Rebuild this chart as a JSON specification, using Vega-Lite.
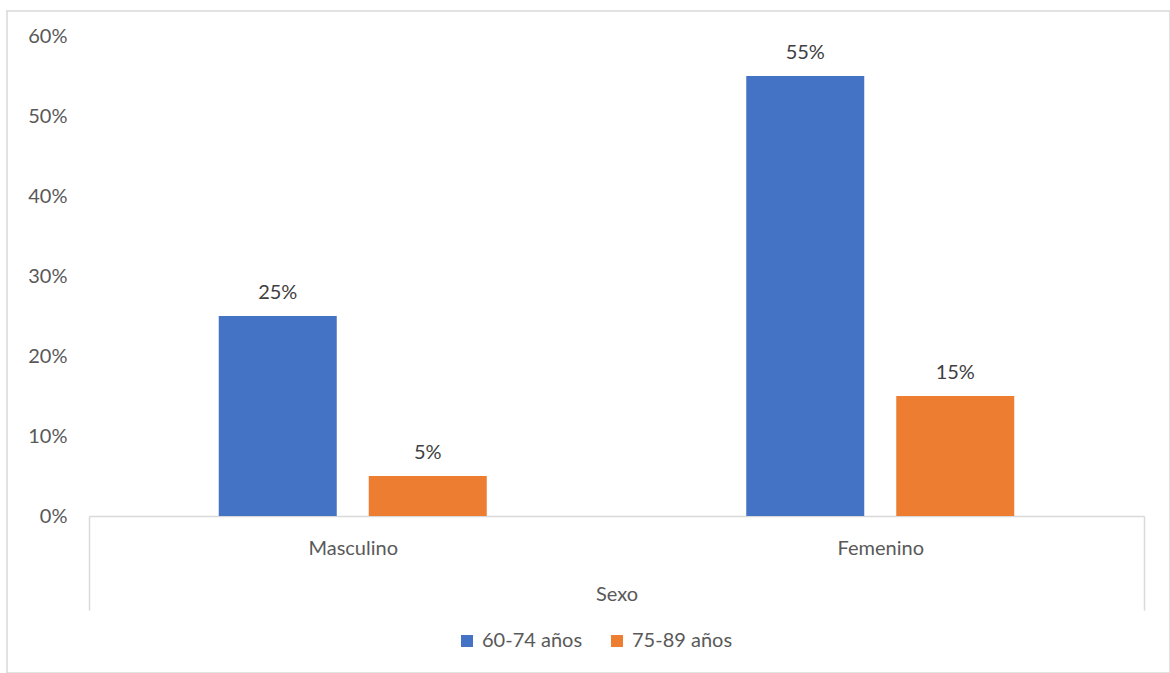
{
  "$schema": "https://vega.github.io/schema/vega-lite/v6.json",
  "autosize": {"type": "none"},
  "width": 1163,
  "height": 662,
  "padding": {"left": 7, "top": 11, "right": 0, "bottom": 0},
  "background": "white",
  "config": {
    "view": {"stroke": "#d9d9d9", "strokeWidth": 1.5},
    "font": "Lato"
  },
  "data": {
    "values": [
      {"sexo": "Masculino", "grupo": "60-74 años", "pct": 0.25},
      {"sexo": "Masculino", "grupo": "75-89 años", "pct": 0.05},
      {"sexo": "Femenino", "grupo": "60-74 años", "pct": 0.55},
      {"sexo": "Femenino", "grupo": "75-89 años", "pct": 0.15}
    ]
  },
  "encoding": {
    "x": {
      "field": "sexo",
      "type": "nominal",
      "sort": ["Masculino", "Femenino"],
      "scale": {"range": [82, 1137], "paddingInner": 0, "paddingOuter": 0},
      "axis": {
        "title": "Sexo",
        "titleFontSize": 20,
        "titleFontWeight": "normal",
        "titleColor": "#595959",
        "titlePadding": -26,
        "labelAngle": 0,
        "labelFontSize": 20,
        "labelColor": "#595959",
        "labelPadding": -72,
        "ticks": true,
        "tickBand": "extent",
        "tickSize": 94,
        "tickColor": "#d9d9d9",
        "tickWidth": 1.5,
        "tickOpacity": {
          "condition": {"test": "datum.value === 'Masculino' && datum.index < 0.9", "value": 0},
          "value": 1
        },
        "domainColor": "#d9d9d9",
        "domainWidth": 1.5,
        "offset": -157
      }
    },
    "y": {
      "field": "pct",
      "type": "quantitative",
      "scale": {"domain": [0, 0.6], "range": [505, 25], "nice": false},
      "axis": {
        "title": null,
        "format": ".0%",
        "values": [0, 0.1, 0.2, 0.3, 0.4, 0.5, 0.6],
        "domain": false,
        "ticks": false,
        "tickSize": 0,
        "grid": false,
        "labelPadding": 0,
        "labelFontSize": 20,
        "labelColor": "#595959",
        "offset": -60
      }
    }
  },
  "layer": [
    {
      "mark": {"type": "bar"},
      "encoding": {
        "xOffset": {
          "field": "grupo",
          "type": "nominal",
          "scale": {"paddingInner": 0.2133, "paddingOuter": 0.865}
        },
        "color": {
          "field": "grupo",
          "type": "nominal",
          "scale": {"domain": ["60-74 años", "75-89 años"], "range": ["#4472C4", "#ED7D31"]},
          "legend": {
            "orient": "none",
            "legendX": 450,
            "legendY": 620,
            "direction": "horizontal",
            "title": null,
            "symbolType": "square",
            "symbolSize": 144,
            "symbolStrokeWidth": 0,
            "labelFontSize": 20,
            "labelColor": "#595959",
            "labelOffset": 5,
            "columnPadding": 24
          }
        }
      }
    },
    {
      "mark": {"type": "text", "baseline": "alphabetic", "dy": -17, "fontSize": 20, "color": "#404040"},
      "encoding": {
        "xOffset": {
          "field": "grupo",
          "type": "nominal",
          "scale": {"paddingInner": 0.2133, "paddingOuter": 0.865}
        },
        "text": {"field": "pct", "type": "quantitative", "format": ".0%"}
      }
    }
  ]
}
